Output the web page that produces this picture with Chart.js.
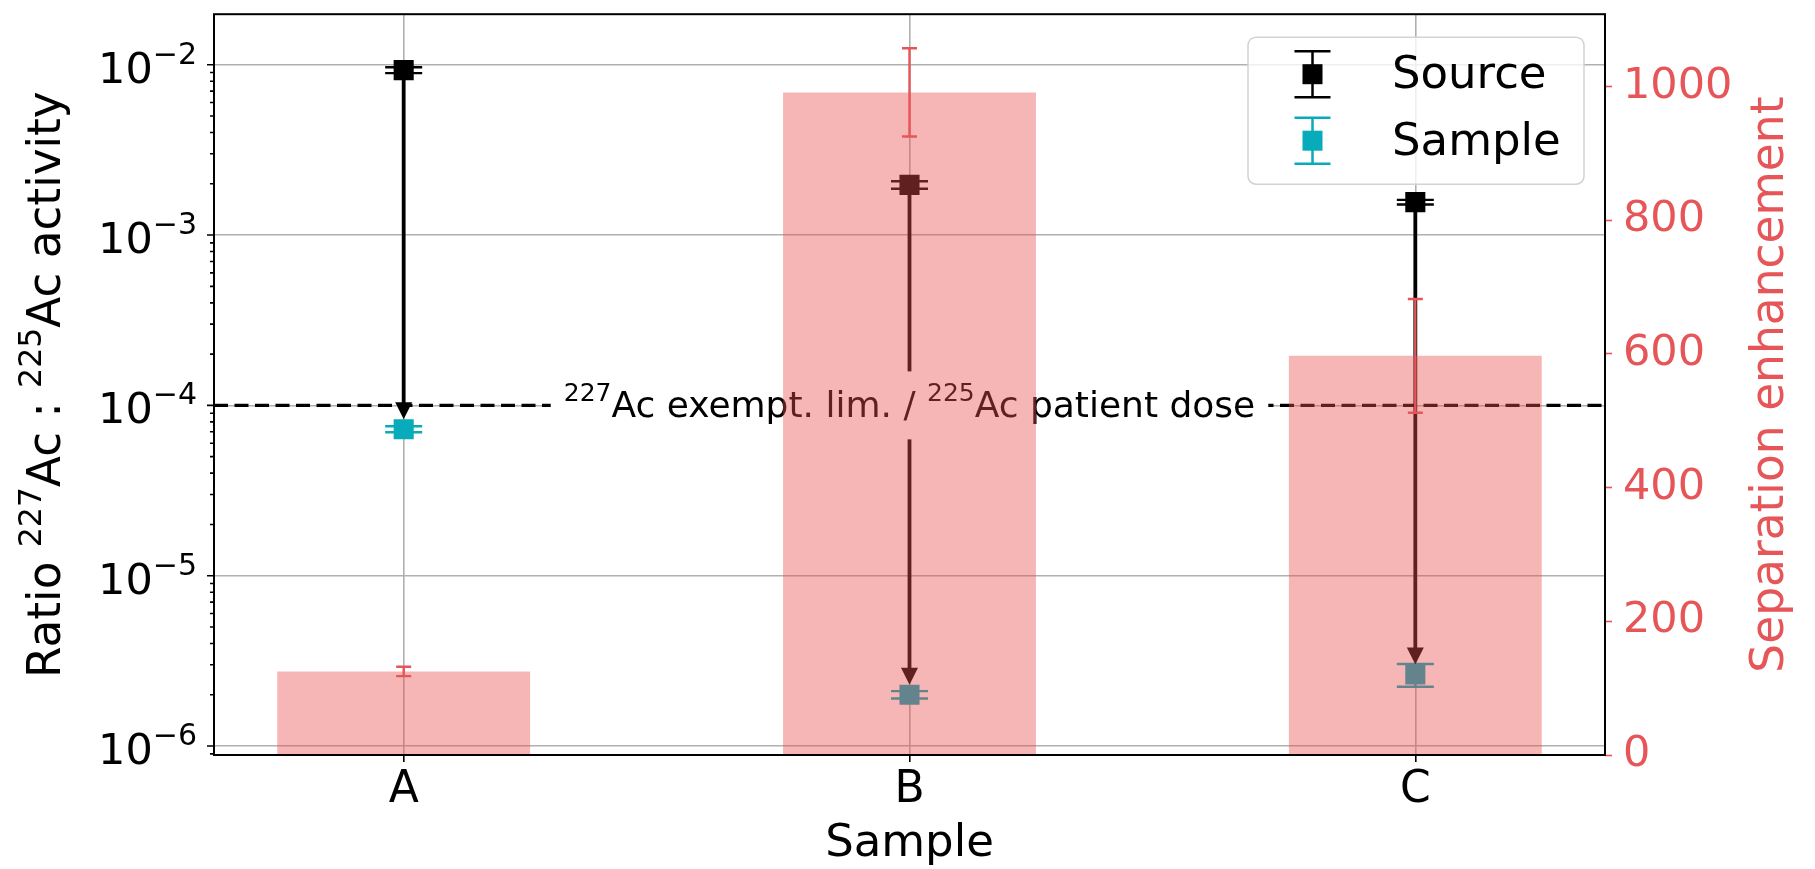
<!DOCTYPE html>
<html>
<head>
<meta charset="utf-8">
<title>Ac-227 : Ac-225 ratio</title>
<script src="https://cdn.jsdelivr.net/npm/chart.js@4.4.1/dist/chart.umd.min.js"></script>
<style>
  html, body { margin: 0; padding: 0; background: #ffffff; }
</style>
</head>
<body>
<canvas id="ratioChart" width="1815" height="869"></canvas>
<script>
// values
var samples = ['A', 'B', 'C'];
var samplePos = [0, 1, 2];
var sourceRatio = [9.3e-3, 1.97e-3, 1.56e-3];
var sourceErr = [0.37e-3, 0.1e-3, 0.05e-3];
var sampleRatio = [7.25e-5, 2.0e-6, 2.63e-6];
var sampleErr = [0.3e-5, 0.1e-6, 0.4e-6];
var enhancement = [125, 991, 597];
var enhancementErr = [7, 66, 85];
var exemptLimit = 1e-4;
var ratioTicks = [1e-6, 1e-5, 1e-4, 1e-3, 1e-2];
var enhancementTicks = [0, 200, 400, 600, 800, 1000];

var FONT = '"DejaVu Sans", "Liberation Sans", sans-serif';
var RED = '#e65558';
var BAR = 'rgba(232, 78, 78, 0.41)';
var CYAN = '#08abb9';
var GRID = '#b0b0b0';

Chart.defaults.font.family = FONT;

function font(size) {
    return size + 'px ' + FONT;
}

function isDecade(v) {
    var l = Math.log10(v);
    return Math.abs(l - Math.round(l)) < 1e-6;
}

// text made of pieces of different size (used for superscripts)
function richWidth(ctx, parts) {
    var w = 0;
    parts.forEach(function (p) {
        ctx.font = font(p.size);
        w += ctx.measureText(p.text).width;
    });
    return w;
}

function drawRich(ctx, parts, x, y, align, color) {
    var w = richWidth(ctx, parts);
    var cx = align === 'right' ? x - w : (align === 'center' ? x - w / 2 : x);
    ctx.fillStyle = color;
    ctx.textAlign = 'left';
    ctx.textBaseline = 'alphabetic';
    parts.forEach(function (p) {
        ctx.font = font(p.size);
        ctx.fillText(p.text, cx, y - (p.rise || 0));
        cx += ctx.measureText(p.text).width;
    });
}

function drawErrorBars(ctx, xs, ys, values, errs, color, capHalf, width) {
    ctx.save();
    ctx.strokeStyle = color;
    ctx.lineWidth = width;
    for (var i = 0; i < values.length; i++) {
        var px = xs.getPixelForValue(samplePos[i]);
        var top = ys.getPixelForValue(values[i] + errs[i]);
        var bot = ys.getPixelForValue(values[i] - errs[i]);
        ctx.beginPath();
        ctx.moveTo(px, top); ctx.lineTo(px, bot);
        ctx.moveTo(px - capHalf, top); ctx.lineTo(px + capHalf, top);
        ctx.moveTo(px - capHalf, bot); ctx.lineTo(px + capHalf, bot);
        ctx.stroke();
    }
    ctx.restore();
}

function drawArrow(ctx, x, yFrom, yTip) {
    var headLen = 17, headHalf = 8.5;
    ctx.save();
    ctx.strokeStyle = '#000';
    ctx.fillStyle = '#000';
    ctx.lineWidth = 3.8;
    ctx.beginPath();
    ctx.moveTo(x, yFrom);
    ctx.lineTo(x, yTip - headLen + 2);
    ctx.stroke();
    ctx.beginPath();
    ctx.moveTo(x, yTip);
    ctx.lineTo(x - headHalf, yTip - headLen);
    ctx.lineTo(x + headHalf, yTip - headLen);
    ctx.closePath();
    ctx.fill();
    ctx.restore();
}

function drawLimit(chart) {
    var ctx = chart.ctx, area = chart.chartArea;
    var xs = chart.scales.x, ys = chart.scales.y;
    var py = ys.getPixelForValue(exemptLimit);

    ctx.save();
    ctx.strokeStyle = '#000';
    ctx.lineWidth = 3.4;
    ctx.setLineDash([14, 6.5]);
    ctx.beginPath();
    ctx.moveTo(area.left, py);
    ctx.lineTo(area.right, py);
    ctx.stroke();
    ctx.restore();

    // arrows from source ratio down to sample ratio
    for (var i = 0; i < samples.length; i++) {
        var px = xs.getPixelForValue(samplePos[i]);
        drawArrow(ctx, px, ys.getPixelForValue(sourceRatio[i]), ys.getPixelForValue(sampleRatio[i]) - 10);
    }

    var parts = [
        {text: '227', size: 25, rise: 15.5},
        {text: 'Ac exempt. lim. / ', size: 36},
        {text: '225', size: 25, rise: 15.5},
        {text: 'Ac patient dose', size: 36}
    ];
    var cx = xs.getPixelForValue(1);
    var w = richWidth(ctx, parts);
    ctx.save();
    ctx.fillStyle = '#ffffff';
    ctx.fillRect(cx - w / 2 - 13, py - 34, w + 26, 68);
    drawRich(ctx, parts, cx, py + 11.5, 'center', '#000');
    ctx.restore();
}

function drawLeftAxis(chart) {
    var ctx = chart.ctx, ys = chart.scales.y, left = chart.chartArea.left;
    ctx.save();
    ctx.strokeStyle = '#000';
    ctx.lineWidth = 1.6;
    ctx.beginPath();
    for (var e = -7; e <= -2; e++) {
        for (var k = 1; k <= 9; k++) {
            var v = k * Math.pow(10, e);
            if (v < ys.min || v > ys.max) continue;
            var py = ys.getPixelForValue(v);
            ctx.moveTo(left - (k === 1 ? 7 : 4), py);
            ctx.lineTo(left, py);
        }
    }
    ctx.stroke();
    ratioTicks.forEach(function (v) {
        var py = ys.getPixelForValue(v);
        var ex = Math.round(Math.log10(v));
        drawRich(ctx, [
            {text: '10', size: 43},
            {text: '\u2212' + Math.abs(ex), size: 30, rise: 19}
        ], 197, py + 18, 'right', '#000');
    });
    ctx.restore();
}

function drawTitles(chart) {
    var ctx = chart.ctx, area = chart.chartArea;
    var cy = (area.top + area.bottom) / 2;
    ctx.save();
    ctx.translate(60, cy);
    ctx.rotate(-Math.PI / 2);
    drawRich(ctx, [
        {text: 'Ratio ', size: 45.3},
        {text: '227', size: 31.5, rise: 19},
        {text: 'Ac : ', size: 45.3},
        {text: '225', size: 31.5, rise: 19},
        {text: 'Ac activity', size: 45.3}
    ], 0, 0, 'center', '#000');
    ctx.restore();

    ctx.save();
    ctx.translate(1783, cy);
    ctx.rotate(-Math.PI / 2);
    drawRich(ctx, [{text: 'Separation enhancement', size: 45.5}], 0, 0, 'center', RED);
    ctx.restore();
}

function drawLegend(chart) {
    var ctx = chart.ctx, area = chart.chartArea;
    var w = 336, h = 147, r = 8;
    var x = area.right - 21 - w, y = area.top + 23;
    ctx.save();
    ctx.beginPath();
    ctx.moveTo(x + r, y);
    ctx.arcTo(x + w, y, x + w, y + h, r);
    ctx.arcTo(x + w, y + h, x, y + h, r);
    ctx.arcTo(x, y + h, x, y, r);
    ctx.arcTo(x, y, x + w, y, r);
    ctx.closePath();
    ctx.fillStyle = 'rgba(255, 255, 255, 0.8)';
    ctx.fill();
    ctx.strokeStyle = '#d3d3d3';
    ctx.lineWidth = 1.5;
    ctx.stroke();

    var entries = [
        {label: chart.data.datasets[0].label, color: '#000', cy: y + 37},
        {label: chart.data.datasets[1].label, color: CYAN, cy: y + 103.5}
    ];
    entries.forEach(function (en) {
        var mx = x + 64.5;
        ctx.strokeStyle = en.color;
        ctx.lineWidth = 2.5;
        ctx.beginPath();
        ctx.moveTo(mx, en.cy - 23); ctx.lineTo(mx, en.cy + 23);
        ctx.moveTo(mx - 18, en.cy - 23); ctx.lineTo(mx + 18, en.cy - 23);
        ctx.moveTo(mx - 18, en.cy + 23); ctx.lineTo(mx + 18, en.cy + 23);
        ctx.stroke();
        ctx.fillStyle = en.color;
        ctx.fillRect(mx - 10, en.cy - 10, 20, 20);
        ctx.font = font(45);
        ctx.textAlign = 'left';
        ctx.textBaseline = 'alphabetic';
        ctx.fillStyle = '#000';
        ctx.fillText(en.label, x + 144, en.cy + 14);
    });
    ctx.restore();
}

var overlayPlugin = {
    id: 'overlay',
    beforeDatasetDraw: function (chart, args) {
        var ctx = chart.ctx, xs = chart.scales.x, ys = chart.scales.y;
        if (args.index === 0) drawErrorBars(ctx, xs, ys, sourceRatio, sourceErr, '#000', 18.5, 2.4);
        if (args.index === 1) drawErrorBars(ctx, xs, ys, sampleRatio, sampleErr, CYAN, 18.5, 2.4);
        if (args.index === 2) drawLimit(chart);
    },
    afterDatasetDraw: function (chart, args) {
        if (args.index === 2) {
            drawErrorBars(chart.ctx, chart.scales.x, chart.scales.y2, enhancement, enhancementErr, RED, 7.5, 2.4);
        }
    },
    afterDatasetsDraw: function (chart) {
        var ctx = chart.ctx, a = chart.chartArea;
        ctx.save();
        ctx.strokeStyle = '#000';
        ctx.lineWidth = 2;
        ctx.strokeRect(a.left, a.top, a.right - a.left, a.bottom - a.top);
        ctx.restore();
        drawLeftAxis(chart);
        drawTitles(chart);
        drawLegend(chart);
    }
};

var chart = new Chart(document.getElementById('ratioChart'), {
    type: 'bar',
    data: {
        datasets: [
            {
                type: 'scatter',
                label: 'Source',
                data: samplePos.map(function (x, i) { return {x: x, y: sourceRatio[i]}; }),
                yAxisID: 'y',
                pointStyle: 'rect',
                pointRadius: 14.2,
                backgroundColor: '#000',
                borderWidth: 0,
                order: 2
            },
            {
                type: 'scatter',
                label: 'Sample',
                data: samplePos.map(function (x, i) { return {x: x, y: sampleRatio[i]}; }),
                yAxisID: 'y',
                pointStyle: 'rect',
                pointRadius: 14.2,
                backgroundColor: CYAN,
                borderWidth: 0,
                order: 1
            },
            {
                type: 'bar',
                label: 'Separation enhancement',
                data: samplePos.map(function (x, i) { return {x: x, y: enhancement[i]}; }),
                yAxisID: 'y2',
                backgroundColor: BAR,
                borderWidth: 0,
                barPercentage: 0.5,
                categoryPercentage: 1,
                order: 0
            }
        ]
    },
    options: {
        responsive: false,
        animation: false,
        devicePixelRatio: 1,
        layout: { padding: { top: 10, left: 0, right: 0, bottom: 0 } },
        plugins: {
            legend: { display: false },
            tooltip: { enabled: false }
        },
        scales: {
            x: {
                type: 'linear',
                min: -0.375,
                max: 2.375,
                offset: false,
                afterBuildTicks: function (scale) {
                    scale.ticks = samplePos.map(function (v) { return {value: v}; });
                },
                ticks: {
                    callback: function (value) {
                        var i = samplePos.indexOf(value);
                        return i < 0 ? '' : samples[i];
                    },
                    font: { size: 44 },
                    color: '#000',
                    padding: 2.5,
                    maxRotation: 0,
                    autoSkip: false
                },
                grid: {
                    color: GRID,
                    lineWidth: 1.6,
                    tickLength: 7,
                    tickColor: '#000',
                    tickWidth: 1.6,
                    offset: false
                },
                border: { display: false },
                title: {
                    display: true,
                    text: 'Sample',
                    color: '#000',
                    font: { size: 45 },
                    padding: { top: 0, bottom: -2 }
                },
                afterFit: function (scale) {
                    scale.height = 114;
                    scale.paddingLeft = 0;
                    scale.paddingRight = 0;
                }
            },
            y: {
                type: 'logarithmic',
                position: 'left',
                min: 8.86e-7,
                max: 0.0198,
                ticks: { display: false },
                grid: {
                    color: function (c) {
                        return c.tick && isDecade(c.tick.value) ? GRID : 'rgba(0,0,0,0)';
                    },
                    lineWidth: 1.6,
                    drawTicks: false
                },
                border: { display: false },
                afterFit: function (scale) {
                    scale.width = 214;
                    scale.paddingTop = 0;
                    scale.paddingBottom = 0;
                }
            },
            y2: {
                type: 'linear',
                position: 'right',
                min: 0,
                max: 1108,
                afterBuildTicks: function (scale) {
                    scale.ticks = enhancementTicks.map(function (v) { return {value: v}; });
                },
                ticks: {
                    callback: function (v) { return String(v); },
                    color: RED,
                    font: { size: 43 },
                    padding: 11
                },
                grid: {
                    drawOnChartArea: false,
                    tickLength: 7,
                    tickColor: RED,
                    tickWidth: 1.6
                },
                border: { display: false },
                afterFit: function (scale) {
                    scale.width = 210;
                    scale.paddingTop = 0;
                    scale.paddingBottom = 0;
                }
            }
        }
    },
    plugins: [overlayPlugin]
});
</script>
</body>
</html>
